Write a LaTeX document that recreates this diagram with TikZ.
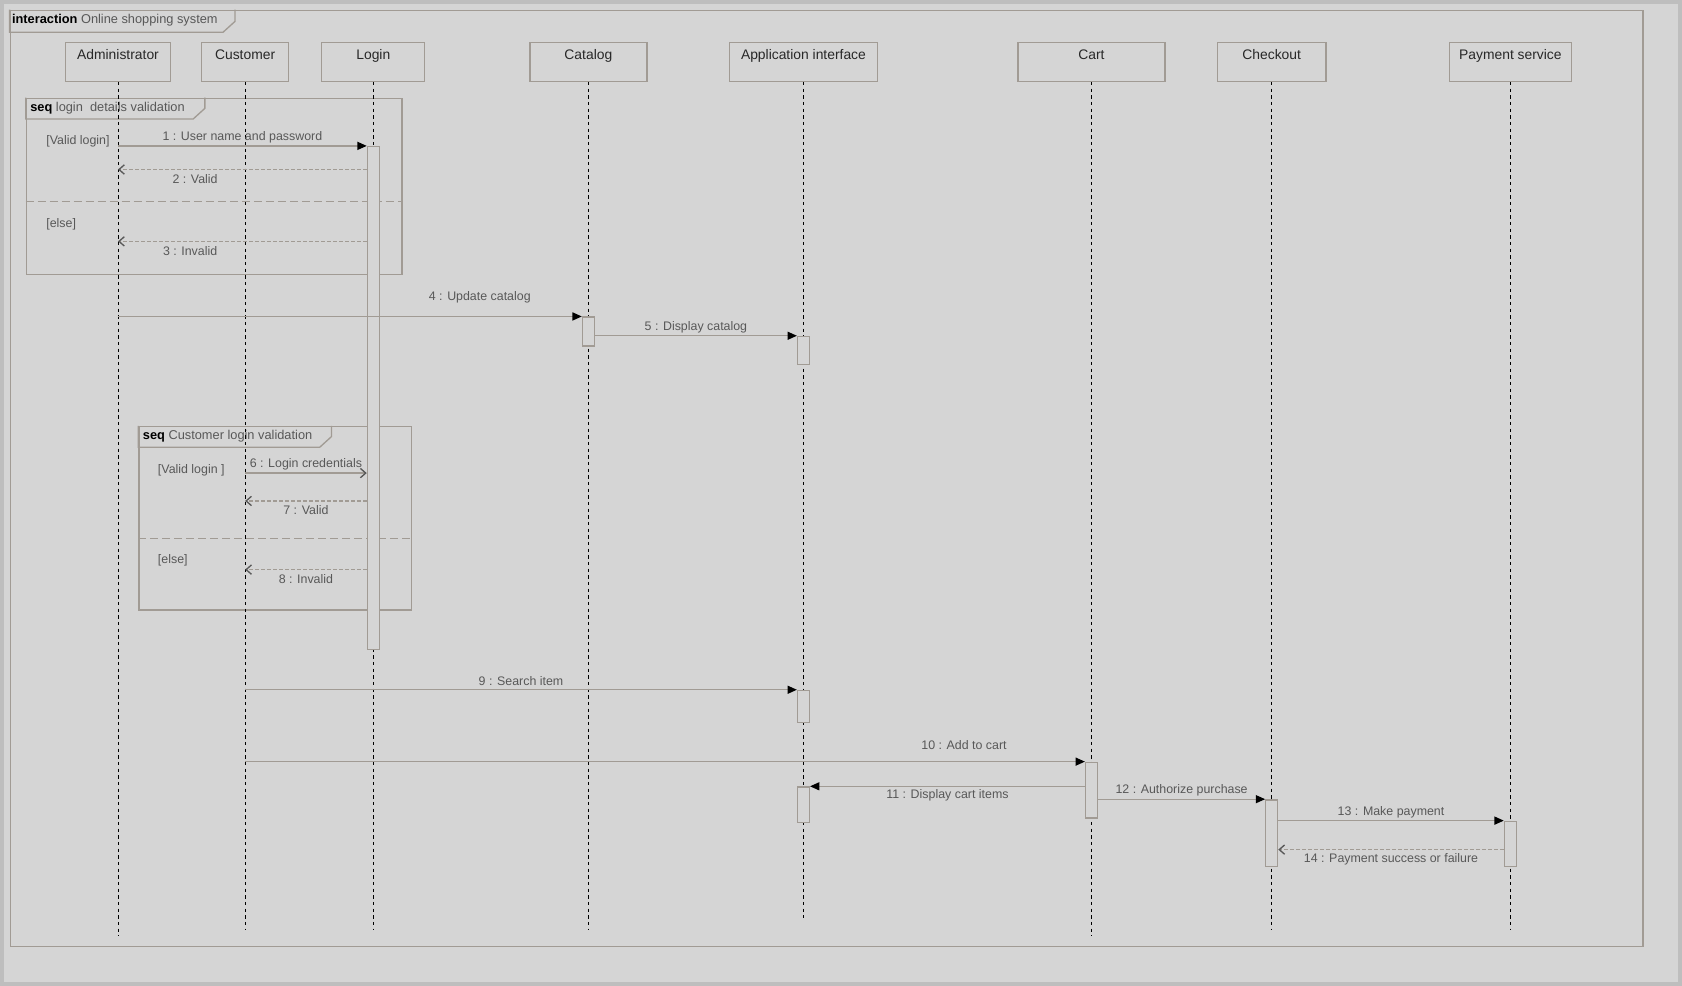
\documentclass[tikz,border=0pt]{standalone}
\usepackage{fontspec}
\setmainfont{Liberation Sans}
\usepackage{tikz}
\usetikzlibrary{arrows.meta,calc,positioning}

\definecolor{bgcol}{RGB}{213,213,213}
\definecolor{edgecol}{RGB}{190,190,190}
\definecolor{linecol}{RGB}{161,155,148}
\definecolor{txtcol}{RGB}{40,40,40}
\definecolor{msgcol}{RGB}{88,88,88}

\begin{document}
\begin{tikzpicture}[x=0.8045pt, y=-0.8045pt,
    head/.style={draw=linecol, line width=1pt, fill=bgcol, inner xsep=0pt, inner ysep=0pt,
        text height=12.5pt, text depth=16.5pt, font=\fontsize{10.4}{12}\selectfont, text=txtcol},
    lifeline/.style={draw=black, line width=0.6pt, dash pattern=on 2.5pt off 2.5pt},
    act/.style={draw=linecol, line width=1pt, fill=bgcol, minimum width=11*\px, inner sep=0pt, anchor=north},
    frm/.style={draw=linecol, line width=1pt},
    divider/.style={draw=linecol, line width=1pt, dash pattern=on 6pt off 3pt},
    msg/.style={draw=linecol, line width=1pt, -{Triangle[length=7pt,width=6pt,color=black]}},
    async/.style={draw=linecol, line width=1pt, -{Straight Barb[length=4pt,width=7pt,color=msgcol]}},
    ret/.style={draw=linecol, line width=1pt, dash pattern=on 2.5pt off 2pt,
        -{Straight Barb[length=4pt,width=7pt,color=msgcol]}},
    lbl/.style={font=\fontsize{9.3}{11}\selectfont, text=msgcol, inner sep=0pt},
    guard/.style={font=\fontsize{9.3}{11}\selectfont, text=msgcol, inner sep=0pt, anchor=west},
    tabtxt/.style={font=\fontsize{9.6}{11}\selectfont, text=msgcol, inner sep=0pt, anchor=west}]
    \def\px{0.8045pt}

    % page
    \useasboundingbox (0,0) rectangle (1568,919);
    \fill[bgcol] (0,0) rectangle (1568,919);
    \draw[edgecol, line width=8*\px] (0,0) rectangle (1568,919);

    % interaction frame
    \node[frm, anchor=north west, minimum width=1522*\px, minimum height=873*\px, inner sep=0pt] (main) at (9,9) {};
    \draw[frm] (main.north west) -- ++(0,21) -- ++(199,0) -- ++(11,-10) -- ++(0,-11);
    \node[tabtxt] at ($(main.north west)+(2,10)$) {\textcolor{black}{\bfseries interaction} Online shopping system};

    % combined fragments
    \node[frm, anchor=north west, minimum width=350*\px, minimum height=164*\px, inner sep=0pt] (seqa) at (24,91) {};
    \draw[frm] (seqa.north west) -- ++(0,20) -- ++(156,0) -- ++(11,-10) -- ++(0,-10);
    \node[tabtxt] at ($(seqa.north west)+(4,10)$) {\textcolor{black}{\bfseries seq}\ login\ \ details validation};
    \draw[divider] (seqa.west |- 0,188) -- (seqa.east |- 0,188);
    \node[guard] at (43,132) {[Valid login]};
    \node[guard] at (43,209) {[else]};

    \node[frm, anchor=north west, minimum width=254*\px, minimum height=171*\px, inner sep=0pt] (seqb) at (129,397) {};
    \draw[frm] (seqb.north west) -- ++(0,20) -- ++(169,0) -- ++(11,-10) -- ++(0,-10);
    \node[tabtxt] at ($(seqb.north west)+(4,10)$) {\textcolor{black}{\bfseries seq}\ Customer login validation};
    \draw[divider] (seqb.west |- 0,502) -- (seqb.east |- 0,502);
    \node[guard] at (147,438) {[Valid login ]};
    \node[guard] at (147,522) {[else]};

    % lifelines
    \foreach \nm/\xl/\xr/\txt/\yend in {adm/61/159/Administrator/873, cus/188/269/Customer/866,
            lgn/300/396/Login/866, cat/494/603/Catalog/866, app/680/818/Application interface/856,
            crt/949/1086/Cart/873, chk/1135/1236/Checkout/866, pay/1351/1465/Payment service/866} {
        \pgfmathsetmacro{\xc}{(\xl+\xr)/2}
        \pgfmathsetmacro{\w}{\xr-\xl}
        \node[head, minimum width=\w*\px, anchor=north] (\nm) at (\xc,39) {\txt};
        \draw[lifeline] (\nm.south) -- (\nm.south |- 0,\yend);
    }

    % activations
    \node[act, minimum height=469*\px] (lgnact) at (lgn |- 0,136) {};
    \node[act, minimum height=27*\px] (catact) at (cat |- 0,295) {};
    \node[act, minimum height=26*\px] (appacta) at (app |- 0,313) {};
    \node[act, minimum height=30*\px] (appactb) at (app |- 0,643) {};
    \node[act, minimum height=33*\px] (appactc) at (app |- 0,733) {};
    \node[act, minimum height=52*\px] (crtact) at (crt |- 0,710) {};
    \node[act, minimum height=62*\px] (chkact) at (chk |- 0,745) {};
    \node[act, minimum height=42*\px] (payact) at (pay |- 0,765) {};

    % messages
    \draw[msg] (adm |- lgnact.north) -- (lgnact.north west)
        node[lbl, midway, yshift=6.5pt] {1 : User name and password};
    \draw[ret] (lgnact.west |- 0,158) -- (adm |- 0,158)
        node[lbl, pos=0.69, yshift=-7pt] {2 : Valid};
    \draw[ret] (lgnact.west |- 0,225) -- (adm |- 0,225)
        node[lbl, pos=0.71, yshift=-7pt] {3 : Invalid};
    \draw[msg] (adm |- catact.north) -- (catact.north west)
        node[lbl, pos=0.78, yshift=14.5pt] {4 : Update catalog};
    \draw[msg] (catact.east |- appacta.north) -- (appacta.north west)
        node[lbl, midway, yshift=6.5pt] {5 : Display catalog};
    \draw[async] (cus |- 0,441) -- (lgnact.west |- 0,441)
        node[lbl, midway, yshift=6.5pt] {6 : Login credentials};
    \draw[ret] (lgnact.west |- 0,467) -- (cus |- 0,467)
        node[lbl, midway, yshift=-7pt] {7 : Valid};
    \draw[ret] (lgnact.west |- 0,531) -- (cus |- 0,531)
        node[lbl, midway, yshift=-7pt] {8 : Invalid};
    \draw[msg] (cus |- appactb.north) -- (appactb.north west)
        node[lbl, midway, yshift=6.5pt] {9 : Search item};
    \draw[msg] (cus |- crtact.north) -- (crtact.north west)
        node[lbl, pos=0.856, yshift=12.5pt] {10 : Add to cart};
    \draw[msg] (crtact.west |- appactc.north) -- (appactc.north east)
        node[lbl, midway, yshift=-7pt] {11 : Display cart items};
    \draw[msg] (crtact.east |- chkact.north) -- (chkact.north west)
        node[lbl, midway, yshift=6.5pt] {12 : Authorize purchase};
    \draw[msg] (chkact.east |- payact.north) -- (payact.north west)
        node[lbl, midway, yshift=6.5pt] {13 : Make payment};
    \draw[ret] (payact.west |- 0,792) -- (chkact.east |- 0,792)
        node[lbl, midway, yshift=-7pt] {14 : Payment success or failure};
\end{tikzpicture}
\end{document}
